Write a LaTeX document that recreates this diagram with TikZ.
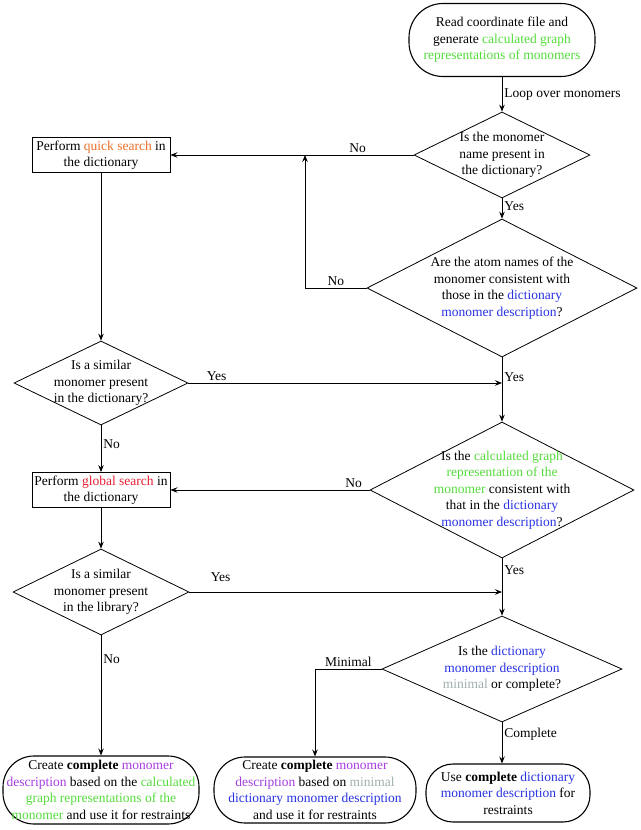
\documentclass[tikz,border=0pt]{standalone}
\usepackage{fontspec}
\setmainfont{Liberation Serif}
\usetikzlibrary{shapes.geometric,arrows.meta,calc}
\definecolor{cgreen}{RGB}{85,220,60}
\definecolor{corange}{RGB}{235,110,40}
\definecolor{cred}{RGB}{230,30,50}
\definecolor{cblue}{RGB}{40,50,225}
\definecolor{cpurple}{RGB}{165,60,225}
\definecolor{cgrey}{RGB}{160,175,175}
\newcommand{\tgreen}[1]{\textcolor{cgreen}{#1}}
\newcommand{\torange}[1]{\textcolor{corange}{#1}}
\newcommand{\tred}[1]{\textcolor{cred}{#1}}
\newcommand{\tblue}[1]{\textcolor{cblue}{#1}}
\newcommand{\tpurple}[1]{\textcolor{cpurple}{#1}}
\newcommand{\tgrey}[1]{\textcolor{cgrey}{#1}}
\begin{document}
\begin{tikzpicture}[x=1pt,y=-1pt,
  every node/.style={font=\fontsize{13.5}{16.5}\selectfont},
  dec/.style={diamond,draw,line width=0.8pt,inner sep=0pt,aspect=2},
  dtext/.style={align=center,inner sep=0pt},
  procbox/.style={rectangle,draw,line width=0.9pt,inner sep=0pt,align=center,minimum width=138pt,minimum height=35pt},
  term/.style={rectangle,draw,line width=1.1pt,inner sep=0pt,align=center},
  conn/.style={line width=0.8pt,-{Stealth[length=7pt,width=5.5pt,inset=2.5pt]}},
  plain/.style={line width=0.8pt},
  lbl/.style={inner sep=2pt}]
\useasboundingbox (0,0) rectangle (640,830);

% nodes
\node[term,rounded corners=34pt,minimum width=186pt,minimum height=73pt] (top) at (502,40)
  {Read coordinate file and\\ generate \tgreen{calculated graph}\\ \tgreen{representations of monomers}};
\node[dec,minimum width=176pt,minimum height=86pt] (d1) at (502,155) {};
\node[dtext] (d1t) at (d1.center) {Is the monomer\\ name present in\\ the dictionary?};
\node[procbox] (qs) at (101,155) {Perform \torange{quick search} in\\ the dictionary};
\node[dec,minimum width=270pt,minimum height=138pt] (d2) at (502,288) {};
\node[dtext] (d2t) at (d2.center)
  {Are the atom names of the\\ monomer consistent with\\ those in the \tblue{dictionary}\\ \tblue{monomer description}?};
\node[dec,minimum width=174pt,minimum height=84pt] (dl1) at (101,383) {};
\node[dtext] (dl1t) at (dl1.center) {Is a similar\\ monomer present\\ in the dictionary?};
\node[dec,minimum width=264pt,minimum height=136pt] (d3) at (502,490) {};
\node[dtext] (d3t) at (d3.center)
  {Is the \tgreen{calculated graph}\\ \tgreen{representation of the}\\ \tgreen{monomer} consistent with\\ that in the \tblue{dictionary}\\ \tblue{monomer description}?};
\node[procbox] (gs) at (101,490) {Perform \tred{global search} in\\ the dictionary};
\node[dec,minimum width=176pt,minimum height=86pt] (dl2) at (101,592) {};
\node[dtext] (dl2t) at (dl2.center) {Is a similar\\ monomer present\\ in the library?};
\node[dec,minimum width=240pt,minimum height=106pt] (d4) at (502,669) {};
\node[dtext] (d4t) at (d4.center)
  {Is the \tblue{dictionary}\\ \tblue{monomer description}\\ \tgrey{minimal} or complete?};
\node[term,rounded corners=31pt,minimum width=196pt,minimum height=68pt] (t1) at (101,790)
  {Create \textbf{complete} \tpurple{monomer}\\ \tpurple{description} based on the \tgreen{calculated}\\ \tgreen{graph representations of the}\\ \tgreen{monomer} and use it for restraints};
\node[term,rounded corners=31pt,minimum width=202pt,minimum height=66pt] (t2) at (315,790)
  {Create \textbf{complete} \tpurple{monomer}\\ \tpurple{description} based on \tgrey{minimal}\\ \tblue{dictionary monomer description}\\ and use it for restraints};
\node[term,rounded corners=27pt,minimum width=164pt,minimum height=58pt] (t3) at (508,793)
  {Use \textbf{complete} \tblue{dictionary}\\ \tblue{monomer description} for\\ restraints};

% helper coordinates
\coordinate (j1) at (305,155);
\coordinate (k1) at (305,288);
\coordinate (j2) at (502,383);
\coordinate (j3) at (502,592);
\coordinate (k4) at (315,669);

% connectors
\draw[conn] (top.south) -- node[lbl,right,pos=0.5]{Loop over monomers} (d1.north);
\draw[conn] (d1.west) -- node[lbl,above,pos=0.23]{No} (qs.east);
\draw[conn] (d1.south) -- node[lbl,right,pos=0.4]{Yes} (d2.north);
\draw[plain] (d2.west) -- node[lbl,above]{No} (k1);
\draw[conn] (k1) -- (j1);
\draw[conn] (qs.south) -- (dl1.north);
\draw[conn] (d2.south) -- node[lbl,right,pos=0.3]{Yes} (d3.north);
\draw[conn] (dl1.east) -- node[lbl,above,pos=0.09]{Yes} (j2);
\draw[conn] (dl1.south) -- node[lbl,right,pos=0.4]{No} (gs.north);
\draw[conn] (d3.west) -- node[lbl,above,pos=0.08]{No} (gs.east);
\draw[conn] (gs.south) -- (dl2.north);
\draw[conn] (d3.south) -- node[lbl,right,pos=0.2]{Yes} (d4.north);
\draw[conn] (dl2.east) -- node[lbl,above=8pt,pos=0.1]{Yes} (j3);
\draw[plain] (d4.west) -- node[lbl,above]{Minimal} (k4);
\draw[conn] (k4) -- (t2.north -| k4);
\draw[conn] (d4.south) -- node[lbl,right,pos=0.3]{Complete} (t3.north -| d4.south);
\draw[conn] (dl2.south) -- node[lbl,right,pos=0.2]{No} (t1.north -| dl2.south);
\end{tikzpicture}
\end{document}
